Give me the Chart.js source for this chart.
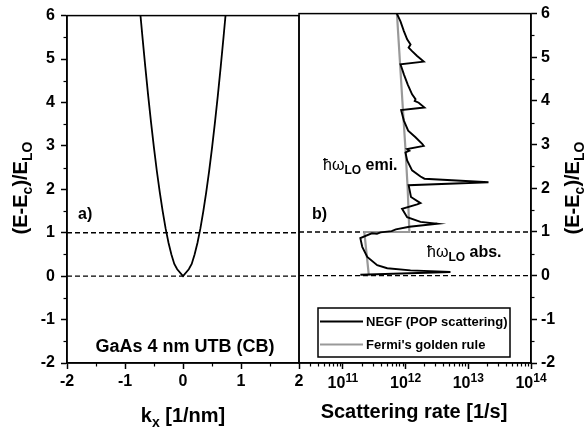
<!DOCTYPE html>
<html><head><meta charset="utf-8">
<script src="https://cdn.jsdelivr.net/npm/chart.js@4/dist/chart.umd.min.js"></script>
<style>
html,body{margin:0;padding:0;background:#fff;}
#wrap{position:relative;width:587px;height:434px;overflow:hidden;}
canvas{position:absolute;left:0;top:0;}
</style></head><body>
<div id="wrap"><canvas id="c1" width="587" height="434"></canvas><canvas id="c2" width="587" height="434"></canvas></div>
<script>
// ---- data ----
const kValues   = [-0.75,-0.7,-0.65,-0.6,-0.55,-0.5,-0.45,-0.4,-0.35,-0.3,-0.25,-0.2,-0.15,-0.1,0,0.1,0.15,0.2,0.25,0.3,0.35,0.4,0.45,0.5,0.55,0.6,0.65,0.7,0.75];
const bandEnergy= [6.25,5.52,4.82,4.15,3.53,2.95,2.41,1.93,1.49,1.10,0.77,0.50,0.28,0.16,0,0.16,0.28,0.50,0.77,1.10,1.49,1.93,2.41,2.95,3.53,4.15,4.82,5.52,6.25];

const negfEnergy = [6.05,5.82,5.60,5.41,5.29,5.22,5.14,5.03,4.90,4.84,4.61,4.38,4.15,4.04,4.00,3.96,3.85,3.79,3.55,3.32,3.17,3.02,2.97,2.90,2.86,2.82,2.64,2.41,2.27,2.22,2.14,2.07,1.80,1.66,1.63,1.53,1.34,1.23,1.19,1.12,1.06,1.02,0.99,0.96,0.97,0.86,0.66,0.43,0.24,0.17,0.12,0.085,0.02];
const negfRate   = [7.0e11,8.3e11,9.4e11,1.06e12,1.20e12,1.12e12,1.27e12,1.53e12,1.95e12,8.3e11,9.4e11,1.08e12,1.27e12,1.44e12,1.40e12,1.62e12,2.0e12,8.5e11,9.4e11,1.1e12,1.44e12,1.84e12,1.95e12,1.06e12,1.15e12,9.96e11,1.06e12,1.27e12,1.73e12,2.0e12,2.1e13,1.12e12,1.22e12,1.73e12,1.53e12,8.8e11,1.06e12,1.73e12,3.2e12,1.15e12,7.0e11,6.0e11,4.0e11,3.5e11,2.9e11,1.9e11,2.04e11,2.45e11,3.53e11,5.1e11,1.2e12,5.2e12,1.9e11];

const fgrEnergy = [6.05,4.0,2.86,2.0,1.0,1.0,0.0];
const fgrRate   = [7.25e11,8.9e11,1.0e12,1.08e12,1.15e12,2.2e11,2.6e11];

const refLevels = [0, 1];
const kRange    = [-2, 2];
const rateRange = [2e10, 1e14];
const eRange    = [-2, 6];

const kTicks    = [-2,-1,0,1,2];
const kMinor    = [-1.5,-0.5,0.5,1.5];
const eTicks    = [-2,-1,0,1,2,3,4,5,6];
const eMinor    = [-1.5,-0.5,0.5,1.5,2.5,3.5,4.5,5.5];
const rateTicks = [1e11,1e12,1e13,1e14];
const rateMinor = [3e10,4e10,5e10,6e10,7e10,8e10,9e10,2e11,3e11,4e11,5e11,6e11,7e11,8e11,9e11,2e12,3e12,4e12,5e12,6e12,7e12,8e12,9e12,2e13,3e13,4e13,5e13,6e13,7e13,8e13,9e13];

// ---- helpers ----
const FONT = '"Liberation Sans", Arial, Helvetica, sans-serif';
function partFont(p, size){
  const s = p.size || ((p.sub||p.sup) ? Math.round(size*0.7) : size);
  return (p.normal ? 'normal ' : 'bold ') + s + 'px ' + FONT;
}
function drawRich(ctx, parts, x, y, size, align){
  let w = 0;
  for (const p of parts){ ctx.font = partFont(p,size); w += ctx.measureText(p.t).width; }
  let cx = align==='center' ? x - w/2 : (align==='right' ? x - w : x);
  ctx.textAlign='left'; ctx.textBaseline='alphabetic'; ctx.fillStyle='#000';
  for (const p of parts){
    ctx.font = partFont(p,size);
    const dy = p.sub ? (p.dy||size*0.25) : (p.sup ? -(p.dy||size*0.4) : 0);
    ctx.fillText(p.t, cx, y+dy);
    cx += ctx.measureText(p.t).width;
  }
}
const yTitle = [{t:'(E-E'},{t:'c',sub:true,size:14,dy:5},{t:')/E'},{t:'LO',sub:true,size:14,dy:5}];

const framePlugin = {
  id:'frame',
  afterDraw(chart){
    const a = chart.chartArea, ctx = chart.ctx;
    ctx.save(); ctx.strokeStyle='#000'; ctx.lineWidth=1.5;
    ctx.strokeRect(a.left, a.top, a.right-a.left, a.bottom-a.top);
    ctx.restore();
  }
};
const minorPlugin = {
  id:'minor',
  afterDraw(chart, args, opts){
    const ctx = chart.ctx;
    ctx.save(); ctx.strokeStyle='#000'; ctx.lineWidth=1.2;
    for (const m of opts.list){
      const s = chart.scales[m.axis];
      for (const v of m.values){
        const p = Math.round(s.getPixelForValue(v))+0.5;
        ctx.beginPath();
        if (m.axis==='x'){ ctx.moveTo(p, s.top); ctx.lineTo(p, s.top+3.5); }
        else if (s.position==='left'){ ctx.moveTo(s.right, p); ctx.lineTo(s.right-3.5, p); }
        else { ctx.moveTo(s.left, p); ctx.lineTo(s.left+3.5, p); }
        ctx.stroke();
      }
    }
    ctx.restore();
  }
};
function axisCommon(){
  return {
    grid:{drawOnChartArea:false, drawTicks:true, tickLength:6, tickWidth:1.5, tickColor:'#000'},
    border:{display:true, color:'#000', width:1.5}
  };
}
const tickFont = {family:FONT, size:16, weight:'bold'};

// ---- left chart: band dispersion ----
const leftText = {
  id:'leftText',
  afterDraw(chart){
    const ctx = chart.ctx; ctx.save();
    ctx.translate(27, 188); ctx.rotate(-Math.PI/2);
    drawRich(ctx, yTitle, 0, 0, 20, 'center');
    ctx.restore(); ctx.save();
    drawRich(ctx, [{t:'k'},{t:'x',sub:true,size:14,dy:5},{t:' [1/nm]'}], 183, 422, 20, 'center');
    drawRich(ctx, [{t:'a)'}], 78, 219, 16, 'left');
    drawRich(ctx, [{t:'GaAs 4 nm UTB (CB)'}], 185, 351.5, 18, 'center');
    ctx.restore();
  }
};
new Chart(document.getElementById('c1'), {
  type:'scatter',
  data:{datasets:[
    {data:kValues.map((k,i)=>({x:k,y:bandEnergy[i]})), showLine:true, borderColor:'#000', borderWidth:1.8, pointRadius:0, tension:0},
    ...refLevels.map(l=>({data:[{x:kRange[0],y:l},{x:kRange[1],y:l}], showLine:true, borderColor:'#000', borderWidth:1.4, borderDash:[5,3], pointRadius:0}))
  ]},
  options:{
    responsive:false, animation:false, events:[],
    layout:{padding:{left:0,right:288,top:12,bottom:0}},
    plugins:{legend:{display:false}, tooltip:{enabled:false},
      minor:{list:[{axis:'x',values:kMinor},{axis:'y',values:eMinor}]}},
    scales:{
      x:Object.assign(axisCommon(), {type:'linear', position:'bottom', min:kRange[0], max:kRange[1],
        afterBuildTicks:s=>{s.ticks=kTicks.map(v=>({value:v}));},
        afterFit:s=>{s.height=71;},
        ticks:{color:'#000', font:tickFont, padding:3, maxRotation:0, autoSkip:false}}),
      y:Object.assign(axisCommon(), {type:'linear', position:'left', min:eRange[0], max:eRange[1],
        afterBuildTicks:s=>{s.ticks=eTicks.map(v=>({value:v}));},
        afterFit:s=>{s.width=67;},
        ticks:{color:'#000', font:tickFont, padding:6, autoSkip:false}})
    }
  },
  plugins:[minorPlugin, framePlugin, leftText]
});

// ---- right chart: scattering rate ----
const rightText = {
  id:'rightText',
  afterDraw(chart){
    const ctx = chart.ctx, xs = chart.scales.x;
    ctx.save();
    for (const v of rateTicks){
      const p = xs.getPixelForValue(v);
      drawRich(ctx, [{t:'10'},{t:String(Math.round(Math.log10(v))),sup:true,size:12,dy:6.5}], p, 388, 16, 'center');
    }
    ctx.save(); ctx.translate(579, 188); ctx.rotate(-Math.PI/2);
    drawRich(ctx, yTitle, 0, 0, 20, 'center');
    ctx.restore();
    drawRich(ctx, [{t:'Scattering rate [1/s]'}], 414, 418, 20, 'center');
    drawRich(ctx, [{t:'b)'}], 312, 219, 16, 'left');
    drawRich(ctx, [{t:'\u0127\u03c9',normal:true},{t:'LO',sub:true,size:12,dy:4},{t:' emi.'}], 323, 170, 16, 'left');
    drawRich(ctx, [{t:'\u0127\u03c9',normal:true},{t:'LO',sub:true,size:12,dy:4},{t:' abs.'}], 427, 256.5, 16, 'left');
    // legend
    ctx.strokeStyle='#000'; ctx.lineWidth=1.5;
    ctx.strokeRect(318, 308, 192, 49);
    ctx.lineWidth=2; ctx.strokeStyle='#000';
    ctx.beginPath(); ctx.moveTo(320, 321.5); ctx.lineTo(363, 321.5); ctx.stroke();
    ctx.strokeStyle='#999'; ctx.lineWidth=2.2;
    ctx.beginPath(); ctx.moveTo(320, 344.5); ctx.lineTo(363, 344.5); ctx.stroke();
    drawRich(ctx, [{t:'NEGF (POP scattering)'}], 366, 326, 13, 'left');
    drawRich(ctx, [{t:"Fermi's golden rule"}], 366, 349, 13, 'left');
    ctx.restore();
  }
};
new Chart(document.getElementById('c2'), {
  type:'scatter',
  data:{datasets:[
    {data:negfRate.map((r,i)=>({x:r,y:negfEnergy[i]})), showLine:true, borderColor:'#000', borderWidth:1.9, pointRadius:0, tension:0},
    {data:fgrRate.map((r,i)=>({x:r,y:fgrEnergy[i]})), showLine:true, borderColor:'#999', borderWidth:2.2, pointRadius:0, tension:0},
    ...refLevels.map(l=>({data:[{x:rateRange[0],y:l},{x:rateRange[1],y:l}], showLine:true, borderColor:'#000', borderWidth:1.4, borderDash:[5,3], pointRadius:0}))
  ]},
  options:{
    responsive:false, animation:false, events:[],
    layout:{padding:{left:299,right:0,top:12,bottom:0}},
    plugins:{legend:{display:false}, tooltip:{enabled:false},
      minor:{list:[{axis:'x',values:rateMinor},{axis:'y',values:eMinor}]}},
    scales:{
      x:Object.assign(axisCommon(), {type:'logarithmic', position:'bottom', min:rateRange[0], max:rateRange[1],
        afterBuildTicks:s=>{s.ticks=rateTicks.map(v=>({value:v}));},
        afterFit:s=>{s.height=71;},
        ticks:{color:'#000', font:tickFont, callback:()=>'', autoSkip:false, maxRotation:0}}),
      y:Object.assign(axisCommon(), {type:'linear', position:'right', min:eRange[0], max:eRange[1],
        afterBuildTicks:s=>{s.ticks=eTicks.map(v=>({value:v}));},
        afterFit:s=>{s.width=56;},
        ticks:{color:'#000', font:tickFont, padding:4, autoSkip:false}})
    }
  },
  plugins:[minorPlugin, framePlugin, rightText]
});
</script>
</body></html>
